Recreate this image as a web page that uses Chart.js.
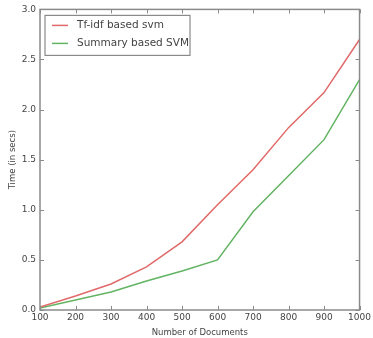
<!DOCTYPE html>
<html>
<head>
<meta charset="utf-8">
<script src="https://cdn.jsdelivr.net/npm/chart.js@4"></script>
<style>
  html, body { margin: 0; padding: 0; background: #fff; }
  #wrap { width: 373px; height: 338px; position: relative; }
</style>
</head>
<body>
<div id="wrap"><canvas id="timeChart"></canvas></div>
<script>
// data
const docCounts = [100, 200, 300, 400, 500, 600, 700, 800, 900, 1000];
const tfidfTimes = [0.03, 0.14, 0.26, 0.43, 0.68, 1.05, 1.40, 1.82, 2.17, 2.70];
const summaryTimes = [0.02, 0.10, 0.18, 0.29, 0.39, 0.50, 0.98, 1.34, 1.70, 2.30];
const yTicks = [0.0, 0.5, 1.0, 1.5, 2.0, 2.5, 3.0];

const axisColor = "#8a8a8a";
const textColor = "#444";

// matplotlib style: frame + inward ticks on all four sides, legend inside top-left
const framePlugin = {
  id: "frame",
  afterDraw(chart) {
    const { ctx, chartArea: a, scales } = chart;
    ctx.save();
    ctx.strokeStyle = axisColor;
    ctx.lineWidth = 1.5;
    ctx.strokeRect(a.left, a.top, a.right - a.left, a.bottom - a.top);
    ctx.lineWidth = 1;
    const len = 4;
    ctx.beginPath();
    scales.x.ticks.forEach(t => {
      const px = Math.round(scales.x.getPixelForValue(t.value)) + 0.5;
      ctx.moveTo(px, a.bottom); ctx.lineTo(px, a.bottom - len);
      ctx.moveTo(px, a.top); ctx.lineTo(px, a.top + len);
    });
    scales.y.ticks.forEach(t => {
      const py = Math.round(scales.y.getPixelForValue(t.value)) + 0.5;
      ctx.moveTo(a.left, py); ctx.lineTo(a.left + len, py);
      ctx.moveTo(a.right, py); ctx.lineTo(a.right - len, py);
    });
    ctx.stroke();

    // legend box
    const bx = a.left + 5, by = a.top + 6, bw = 145, bh = 40;
    ctx.fillStyle = "#fff";
    ctx.fillRect(bx, by, bw, bh);
    ctx.strokeStyle = axisColor;
    ctx.lineWidth = 1.2;
    ctx.strokeRect(bx, by, bw, bh);
    ctx.font = "10.5px 'DejaVu Sans'";
    ctx.textBaseline = "middle";
    chart.data.datasets.forEach((ds, i) => {
      const y = by + 10 + i * 18;
      ctx.strokeStyle = ds.borderColor;
      ctx.lineWidth = 1.5;
      ctx.beginPath();
      ctx.moveTo(bx + 7, y); ctx.lineTo(bx + 23, y);
      ctx.stroke();
      ctx.fillStyle = textColor;
      ctx.fillText(ds.label, bx + 32, y);
    });
    ctx.restore();
  }
};

new Chart(document.getElementById("timeChart"), {
  type: "line",
  data: {
    labels: docCounts,
    datasets: [
      {
        label: "Tf-idf based svm",
        data: tfidfTimes,
        borderColor: "#e06a6a",
        borderWidth: 1.5,
        pointRadius: 0,
        tension: 0
      },
      {
        label: "Summary based SVM",
        data: summaryTimes,
        borderColor: "#62b462",
        borderWidth: 1.5,
        pointRadius: 0,
        tension: 0
      }
    ]
  },
  options: {
    responsive: true,
    maintainAspectRatio: false,
    animation: false,
    layout: { padding: { left: 8, top: 9, right: 12, bottom: 0 } },
    plugins: {
      legend: { display: false },
      tooltip: { enabled: false }
    },
    scales: {
      x: {
        type: "linear",
        min: 100,
        max: 1000,
        afterBuildTicks: s => { s.ticks = docCounts.map(v => ({ value: v })); },
        grid: { display: false, drawTicks: false },
        border: { display: false },
        ticks: { color: textColor, font: { size: 9, family: "DejaVu Sans" }, padding: 2, maxRotation: 0, callback: v => String(v) },
        title: { display: true, text: "Number of Documents", color: textColor, font: { size: 8.5, family: "DejaVu Sans" }, padding: { top: 2, bottom: 0 } },
        afterFit: s => { s.height = 28; }
      },
      y: {
        min: 0,
        max: 3,
        afterBuildTicks: s => { s.ticks = yTicks.map(v => ({ value: v })); },
        grid: { display: false, drawTicks: false },
        border: { display: false },
        ticks: { color: textColor, font: { size: 9, family: "DejaVu Sans" }, padding: 4, callback: v => v.toFixed(1) },
        title: { display: true, text: "Time (in secs)", color: textColor, font: { size: 8.5, family: "DejaVu Sans" }, padding: { top: 0, bottom: 2 } },
        afterFit: s => { s.width = 32; }
      }
    }
  },
  plugins: [framePlugin]
});
</script>
</body>
</html>
